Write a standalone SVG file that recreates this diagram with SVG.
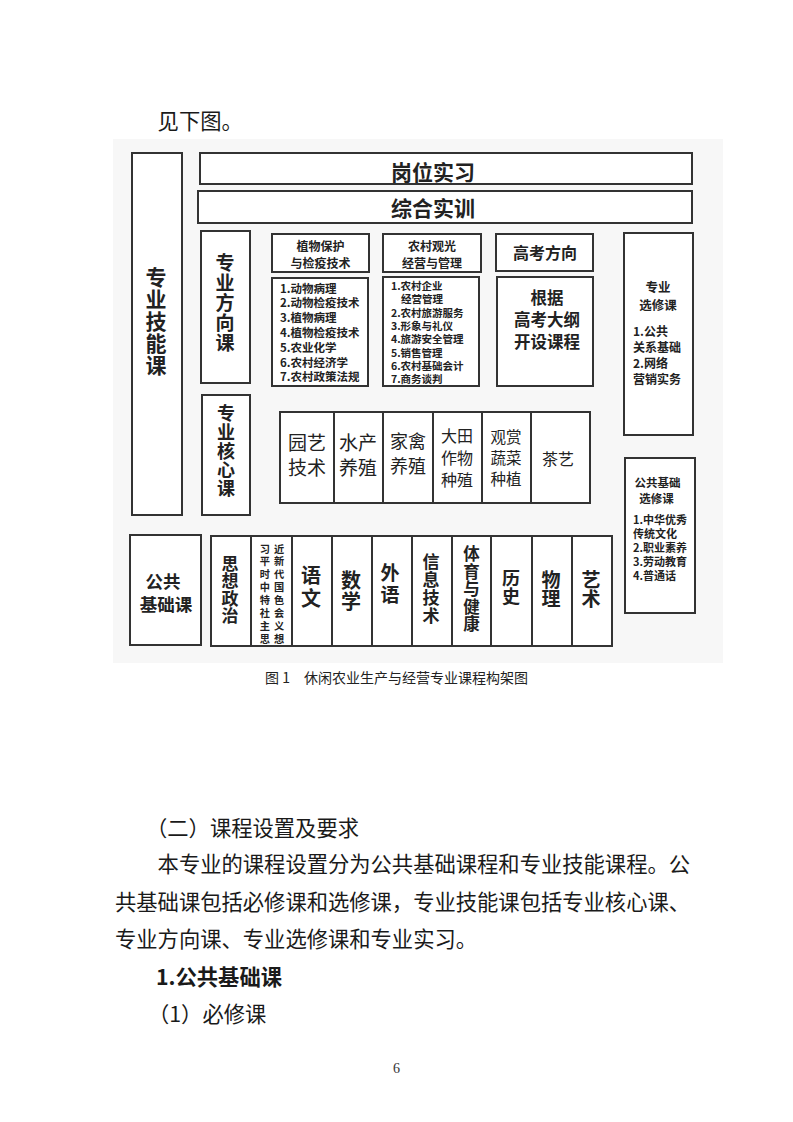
<svg xmlns="http://www.w3.org/2000/svg" width="793" height="1122" viewBox="0 0 793 1122">
<style>
.bx{fill:#fff;stroke:#333;stroke-width:2}
.ln{stroke:#333;stroke-width:2}
.t{font-family:"Noto Sans CJK SC","Noto Sans CJK JP",sans-serif;fill:#222;dominant-baseline:central}
.b{font-weight:bold}
.m{text-anchor:middle}
.v{writing-mode:vertical-rl;text-anchor:middle}
.body{font-family:"Noto Sans CJK SC",sans-serif;fill:#1a1a1a;font-size:21.3px;dominant-baseline:central}
</style>
<rect x="0" y="0" width="793" height="1122" fill="#fff"/>
<text class="body" x="157.6" y="119">见下图。</text>
<rect x="113" y="139" width="610" height="524" fill="#f7f7f7"/>
<g id="connectors"></g>

<g id="n-zyjnk">
<rect class="bx" x="132" y="153" width="50" height="362"/>
<text class="t b v" font-size="21" letter-spacing="1" x="156" y="321.5">专业技能课</text>
</g>
<g id="n-gwsx">
<rect class="bx" x="200" y="153" width="492" height="31"/>
<text class="t b m" font-size="21" x="433" y="171">岗位实习</text>
</g>
<g id="n-zhsx">
<rect class="bx" x="198" y="191" width="494" height="32"/>
<text class="t b m" font-size="21" x="433" y="207">综合实训</text>
</g>
<g id="n-zyfxk">
<rect class="bx" x="201" y="231" width="49" height="152"/>
<text class="t b v" font-size="19" letter-spacing="1" x="225" y="303.5">专业方向课</text>
</g>
<g id="n-zwbh">
<rect class="bx" x="272" y="234" width="97" height="38"/>
<text class="t b m" font-size="12"><tspan x="320.5" y="244.5">植物保护</tspan><tspan x="320.5" y="261.5">与检疫技术</tspan></text>
</g>
<g id="n-zwbh-list">
<rect class="bx" x="272" y="278" width="96" height="108"/>
<text class="t b" font-size="11.5"><tspan x="280" y="287.5">1.动物病理</tspan><tspan x="280" y="302.3">2.动物检疫技术</tspan><tspan x="280" y="317.1">3.植物病理</tspan><tspan x="280" y="331.9">4.植物检疫技术</tspan><tspan x="280" y="346.7">5.农业化学</tspan><tspan x="280" y="361.5">6.农村经济学</tspan><tspan x="280" y="376.3">7.农村政策法规</tspan></text>
</g>
<g id="n-ncgg">
<rect class="bx" x="383" y="234" width="98" height="38"/>
<text class="t b m" font-size="12"><tspan x="432" y="244.5">农村观光</tspan><tspan x="432" y="261.5">经营与管理</tspan></text>
</g>
<g id="n-ncgg-list">
<rect class="bx" x="383" y="277" width="96" height="109"/>
<text class="t b" font-size="10.5"><tspan x="391" y="285">1.农村企业</tspan><tspan x="401" y="298.3">经营管理</tspan><tspan x="391" y="311.6">2.农村旅游服务</tspan><tspan x="391" y="324.9">3.形象与礼仪</tspan><tspan x="391" y="338.2">4.旅游安全管理</tspan><tspan x="391" y="351.5">5.销售管理</tspan><tspan x="391" y="364.8">6.农村基础会计</tspan><tspan x="391" y="378.1">7.商务谈判</tspan></text>
</g>
<g id="n-gkfx">
<rect class="bx" x="496" y="234" width="97" height="37"/>
<text class="t b m" font-size="16" x="545" y="251.5">高考方向</text>
</g>
<g id="n-gj">
<rect class="bx" x="497" y="277" width="96" height="109"/>
<text class="t b m" font-size="16.5"><tspan x="547" y="297.2">根据</tspan><tspan x="547" y="319">高考大纲</tspan><tspan x="547" y="340.8">开设课程</tspan></text>
</g>
<g id="n-zyxxk">
<rect class="bx" x="624" y="233" width="69" height="202"/>
<text class="t b m" font-size="12.5"><tspan x="658" y="285.5">专业</tspan><tspan x="658" y="303.5">选修课</tspan></text>
<text class="t b" font-size="12"><tspan x="633" y="330">1.公共</tspan><tspan x="633" y="346">关系基础</tspan><tspan x="633" y="362">2.网络</tspan><tspan x="633" y="378">营销实务</tspan></text>
</g>
<g id="n-zyhxk">
<rect class="bx" x="202" y="395" width="48" height="120"/>
<text class="t b v" font-size="18" letter-spacing="0.75" x="226" y="451.4">专业核心课</text>
</g>
<g id="n-core">
<rect class="bx" x="280" y="412" width="310" height="91"/>
<line class="ln" x1="334" y1="412" x2="334" y2="503"/>
<line class="ln" x1="383" y1="412" x2="383" y2="503"/>
<line class="ln" x1="433" y1="412" x2="433" y2="503"/>
<line class="ln" x1="482" y1="412" x2="482" y2="503"/>
<line class="ln" x1="531" y1="412" x2="531" y2="503"/>
<text class="t m" font-size="19"><tspan x="307" y="441">园艺</tspan><tspan x="307" y="466">技术</tspan></text>
<text class="t m" font-size="19"><tspan x="358" y="441">水产</tspan><tspan x="358" y="466">养殖</tspan></text>
<text class="t m" font-size="18"><tspan x="408" y="440">家禽</tspan><tspan x="408" y="465">养殖</tspan></text>
<text class="t m" font-size="16"><tspan x="457" y="434.5">大田</tspan><tspan x="457" y="456.5">作物</tspan><tspan x="457" y="478.5">种殖</tspan></text>
<text class="t m" font-size="15.5"><tspan x="506" y="435.5">观赏</tspan><tspan x="506" y="456.5">蔬菜</tspan><tspan x="506" y="477.5">种植</tspan></text>
<text class="t m" font-size="16" x="558" y="457.5">茶艺</text>
</g>
<g id="n-ggjcxxk">
<rect class="bx" x="625" y="458" width="70" height="155"/>
<text class="t b m" font-size="11.5"><tspan x="657.5" y="481.5">公共基础</tspan><tspan x="656.5" y="497.5">选修课</tspan></text>
<text class="t b" font-size="11"><tspan x="633" y="519">1.中华优秀</tspan><tspan x="633" y="533">传统文化</tspan><tspan x="633" y="547">2.职业素养</tspan><tspan x="633" y="561">3.劳动教育</tspan><tspan x="633" y="575">4.普通话</tspan></text>
</g>
<g id="n-ggjck">
<rect class="bx" x="130" y="535" width="71" height="110"/>
<text class="t b m" font-size="17.5"><tspan x="163" y="580">公共</tspan><tspan x="166" y="603">基础课</tspan></text>
</g>
<g id="n-basic">
<rect class="bx" x="211" y="536" width="401" height="110"/>
<line class="ln" x1="251" y1="536" x2="251" y2="646"/>
<line class="ln" x1="292" y1="536" x2="292" y2="646"/>
<line class="ln" x1="332" y1="536" x2="332" y2="646"/>
<line class="ln" x1="372" y1="536" x2="372" y2="646"/>
<line class="ln" x1="412" y1="536" x2="412" y2="646"/>
<line class="ln" x1="452" y1="536" x2="452" y2="646"/>
<line class="ln" x1="491" y1="536" x2="491" y2="646"/>
<line class="ln" x1="532" y1="536" x2="532" y2="646"/>
<line class="ln" x1="572" y1="536" x2="572" y2="646"/>
<text class="t b v" font-size="17" letter-spacing="0.5" x="230" y="590">思想政治</text>
<text class="t b m" font-size="10.2" letter-spacing="4"><tspan x="274" y="547.5">习近</tspan><tspan x="274" y="560.4">平新</tspan><tspan x="274" y="573.3">时代</tspan><tspan x="274" y="586.2">中国</tspan><tspan x="274" y="599.1">特色</tspan><tspan x="274" y="612">社会</tspan><tspan x="274" y="624.9">主义</tspan><tspan x="274" y="637.8">思想</tspan></text>
<text class="t b v" font-size="20" letter-spacing="3" x="311" y="588">语文</text>
<text class="t b v" font-size="20" letter-spacing="1" x="351" y="591">数学</text>
<text class="t b v" font-size="19" letter-spacing="3.5" x="390" y="585.5">外语</text>
<text class="t b v" font-size="17" letter-spacing="1" x="431" y="589.5">信息技术</text>
<text class="t b v" font-size="16.5" letter-spacing="1" x="471.5" y="589.5">体育与健康</text>
<text class="t b v" font-size="18" x="511" y="587.5">历史</text>
<text class="t b v" font-size="19" x="551" y="589">物理</text>
<text class="t b v" font-size="19" x="591" y="589.5">艺术</text>
</g>

<text class="t m" font-size="14" fill="#333" x="396.5" y="677">图 1　休闲农业生产与经营专业课程构架图</text>

<text class="body" x="146" y="826">（二）课程设置及要求</text>
<text class="body" x="157.6" y="862">本专业的课程设置分为公共基础课程和专业技能课程。公</text>
<text class="body" x="115" y="900">共基础课包括必修课和选修课，专业技能课包括专业核心课、</text>
<text class="body" x="115" y="937">专业方向课、专业选修课和专业实习。</text>
<text class="body" font-weight="bold" x="156" y="975">1.公共基础课</text>
<text class="body" x="148" y="1012">（1）必修课</text>
<text x="396.5" y="1068" font-family="Liberation Serif, serif" font-size="14" fill="#333" text-anchor="middle" dominant-baseline="central">6</text>
</svg>
